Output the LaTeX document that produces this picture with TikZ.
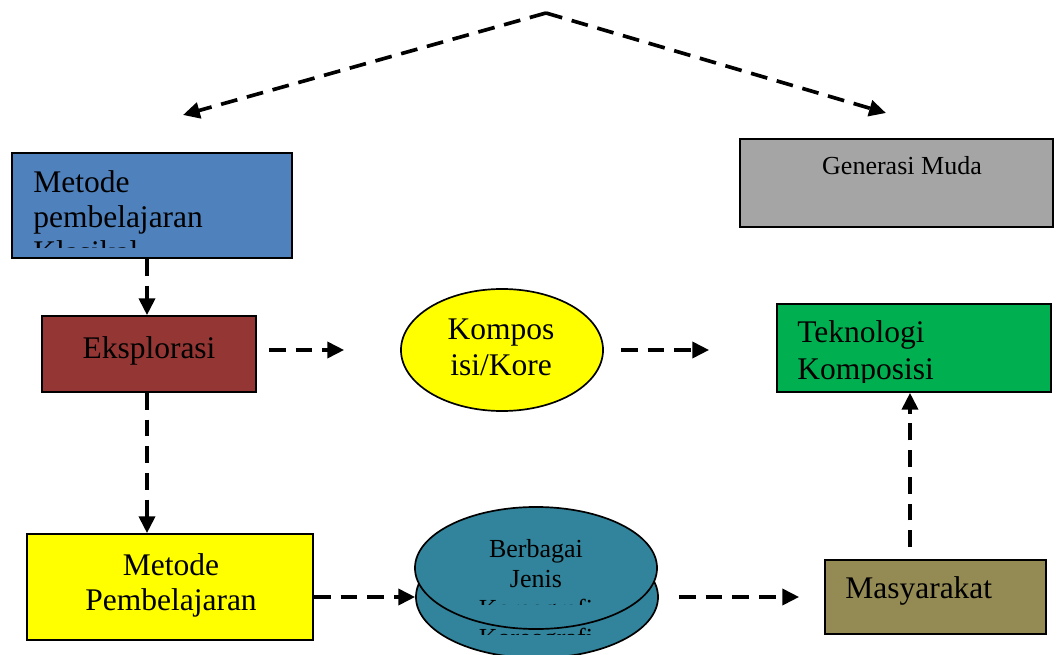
\documentclass[tikz,border=0pt]{standalone}
\usepackage{fontspec}
\setmainfont{Liberation Serif}
\usetikzlibrary{
    arrows.meta,
    shapes.geometric,
    positioning
}
\definecolor{klasikblue}{HTML}{4F81BD}
\definecolor{eksred}{HTML}{943634}
\definecolor{metyellow}{HTML}{FFFF00}
\definecolor{tekgreen}{HTML}{00B050}
\definecolor{gengray}{HTML}{A5A5A5}
\definecolor{jenisteal}{HTML}{31849B}
\definecolor{masyolive}{HTML}{948A54}
\newcommand{\bigtxt}{\fontsize{22.4pt}{24.9pt}\selectfont}
\newcommand{\smalltxt}{\fontsize{18.5pt}{21pt}\selectfont}

\begin{document}
\begin{tikzpicture}[x=0.025cm, y=-0.025cm,
    box/.style={draw=black, line width=1.2pt, rectangle, inner sep=0pt},
    oval/.style={draw=black, line width=1.2pt, ellipse, inner sep=0pt},
    dline/.style={line width=2.6pt, dash pattern=on 12pt off 7pt,
        -{Triangle[length=0.42cm, width=0.4cm]}},
    big/.style={font=\bigtxt, inner sep=0pt},
    small/.style={font=\smalltxt, inner sep=0pt}]
    \useasboundingbox (0,0) rectangle (1057,655);

    % top branch
    \coordinate (apex) at (546,13);
    \coordinate (tl) at (183,115);
    \coordinate (tr) at (886,113);
    \draw[dline] (apex) -- (tl);
    \draw[dline] (apex) -- (tr);

    % boxes
    \node[box, fill=klasikblue, minimum width=7cm, minimum height=2.625cm] (klasik) at (152,205.5) {};
    \node[box, fill=gengray, minimum width=7.825cm, minimum height=2.2cm] (gen) at (896.5,183) {};
    \node[box, fill=eksred, minimum width=5.35cm, minimum height=1.9cm] (eksp) at (149,354) {};
    \node[oval, fill=metyellow, minimum width=5.05cm, minimum height=3.05cm] (kompos) at (502,350) {};
    \node[box, fill=tekgreen, minimum width=6.85cm, minimum height=2.2cm] (tekno) at (914,348) {};
    \node[box, fill=metyellow, minimum width=7.15cm, minimum height=2.65cm] (metp) at (170,587) {};
    \node[box, fill=masyolive, minimum width=5.525cm, minimum height=1.85cm] (masy) at (935.5,597) {};

    % texts
    \begin{scope}
        \clip (14,155) rectangle (290,248);
        \node[big, anchor=base west] (klasik1) at (33,193) {Metode};
        \node[big, anchor=base west] (klasik2) at (33,228) {pembelajaran};
        \node[big, anchor=base west] (klasik3) at (33,263) {Klasikal};
    \end{scope}
    \node[small, anchor=base] (gen1) at (902,175) {Generasi Muda};
    \node[big, anchor=base] (eksp1) at (149,358) {Eksplorasi};
    \node[big, anchor=base] (kompos1) at (501,340) {Kompos};
    \node[big, anchor=base] (kompos2) at (501,375) {isi/Kore};
    \begin{scope}
        \clip (779,306) rectangle (1049,382);
        \node[big, anchor=base west] (tekno1) at (797,343) {Teknologi};
        \node[big, anchor=base west] (tekno2) at (797,379) {Komposisi};
    \end{scope}
    \node[big, anchor=base] (metp1) at (171,575) {Metode};
    \node[big, anchor=base] (metp2) at (171,610) {Pembelajaran};
    \node[big, anchor=base west] (masy1) at (845,598) {Masyarakat};

    % stacked discs
    \node[oval, fill=jenisteal, minimum width=6.05cm, minimum height=3.05cm] (cylb) at (537,597) {};
    \begin{scope}
        \clip (440,540) rectangle (635,634);
        \node[small, anchor=base] (cylb1) at (536,586) {Berbagai};
        \node[small, anchor=base] (cylb2) at (536,616) {Jenis};
        \node[small, anchor=base] (cylb3) at (536,646) {Koreografi};
    \end{scope}
    \node[oval, fill=jenisteal, minimum width=6.05cm, minimum height=3.05cm] (cylt) at (536,568) {};
    \begin{scope}
        \clip (440,511) rectangle (635,604);
        \node[small, anchor=base] (cylt1) at (536,557) {Berbagai};
        \node[small, anchor=base] (cylt2) at (536,587) {Jenis};
        \node[small, anchor=base] (cylt3) at (536,617) {Koreografi};
    \end{scope}

    % connectors
    \draw[dline] ([xshift=-0.05cm]klasik.south -| eksp.north) -- ([xshift=-0.05cm]eksp.north);
    \draw[dline, shorten <=0.3cm, shorten >=1.4cm] (kompos.west -| eksp.east) -- (kompos.west);
    \draw[dline, shorten <=0.425cm, shorten >=1.675cm] (kompos.east) -- (kompos.east -| tekno.west);
    \draw[dline] ([xshift=-0.05cm]eksp.south) -- ([xshift=-0.05cm]eksp.south |- metp.north);
    \draw[dline] (metp.east |- cylb.west) -- (cylb.west);
    \draw[dline, shorten <=0.5cm, shorten >=0.625cm] (cylb.east) -- (cylb.east -| masy.west);
    \draw[dline, shorten <=0.3cm] ([xshift=-0.1cm]masy.north -| tekno.south) -- ([xshift=-0.1cm]tekno.south);
\end{tikzpicture}
\end{document}
